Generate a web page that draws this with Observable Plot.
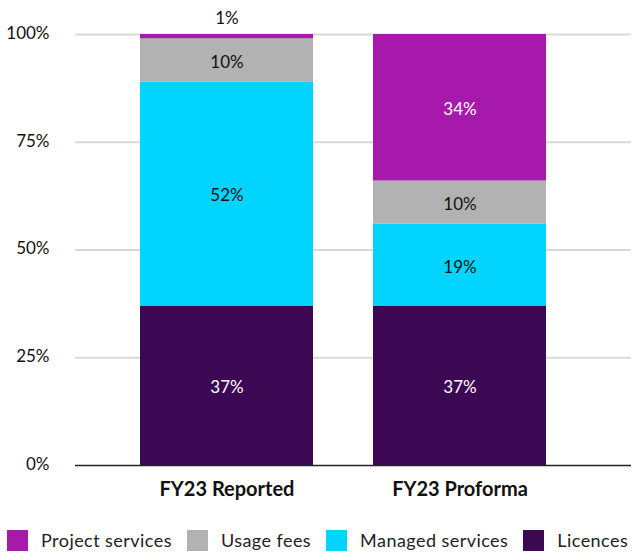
<!DOCTYPE html>
<html>
<head>
<meta charset="utf-8">
<script src="https://cdn.jsdelivr.net/npm/d3@7"></script>
<script src="https://cdn.jsdelivr.net/npm/@observablehq/plot@0.6"></script>
<style>
  html, body { margin: 0; padding: 0; background: #fff; }
  body { font-family: Lato, "Open Sans", sans-serif; width: 637px; height: 554px; overflow: hidden; }
  #legend { display: flex; align-items: center; gap: 15px; padding-left: 7px; margin-top: 19px; font-size: 18px; color: #222; letter-spacing: 0.45px; }
  #legend .item { display: flex; align-items: center; gap: 13px; }
  #legend .sw { width: 21px; height: 21px; display: inline-block; }
</style>
</head>
<body>
<div id="chart"></div>
<div id="legend"></div>
<script>
const categories = ["FY23 Reported", "FY23 Proforma"];
const series = ["Licences", "Managed services", "Usage fees", "Project services"];
const legendOrder = ["Project services", "Usage fees", "Managed services", "Licences"];
const colors = ["#3c0753", "#00d4ff", "#b2b2b2", "#a619ab"];
const labelColors = ["#ffffff", "#111111", "#111111", "#ffffff"];
const reportedValues = [37, 52, 10, 1];
const proformaValues = [37, 19, 10, 34];
const yTicks = [0, 25, 50, 75, 100];

const valuesByCategory = [reportedValues, proformaValues];
const data = [];
categories.forEach((c, ci) => {
  series.forEach((s, si) => {
    data.push({category: c, series: s, value: valuesByCategory[ci][si], labelColor: labelColors[si]});
  });
});

const chart = Plot.plot({
  width: 637,
  height: 510,
  marginTop: 34,
  marginBottom: 45,
  marginLeft: 75,
  marginRight: 6,
  style: {fontFamily: "Lato, 'Open Sans', sans-serif", fontSize: "16px", color: "#222", background: "#fff"},
  x: {domain: categories, range: [75, 611], paddingInner: 0.258, paddingOuter: 0.279, label: null},
  y: {domain: [0, 100], label: null},
  color: {domain: series, range: colors},
  marks: [
    Plot.ruleY(yTicks.filter(t => t > 0), {stroke: "#d9d9d9", strokeWidth: 2}),
    Plot.barY(data, {x: "category", y: "value", fill: "series", order: series}),
    Plot.ruleY([0], {stroke: "#222", strokeWidth: 1.5}),
    Plot.axisY({ticks: yTicks, tickSize: 0, tickPadding: 26, tickFormat: d => d + "%", fontSize: 17, fill: "#111", dy: -1, label: null}),
    Plot.axisX({tickSize: 0, tickPadding: 16, fontSize: 20, fontWeight: "bold", fill: "#111", label: null}),
    Plot.text(data, Plot.stackY({x: "category", y: "value", z: "series", order: series,
      text: d => d.value >= 3 ? d.value + "%" : "", fill: "labelColor", fontSize: 17, dy: 2})),
    Plot.text(data, Plot.stackY2({x: "category", y: "value", z: "series", order: series,
      text: d => d.value < 3 ? d.value + "%" : "", fill: "#111", fontSize: 17, dy: -16}))
  ]
});
document.getElementById("chart").appendChild(chart);

const legend = document.getElementById("legend");
legendOrder.forEach(s => {
  const item = document.createElement("div");
  item.className = "item";
  const sw = document.createElement("span");
  sw.className = "sw";
  sw.style.background = colors[series.indexOf(s)];
  const t = document.createElement("span");
  t.textContent = s;
  item.appendChild(sw);
  item.appendChild(t);
  legend.appendChild(item);
});
</script>
</body>
</html>
